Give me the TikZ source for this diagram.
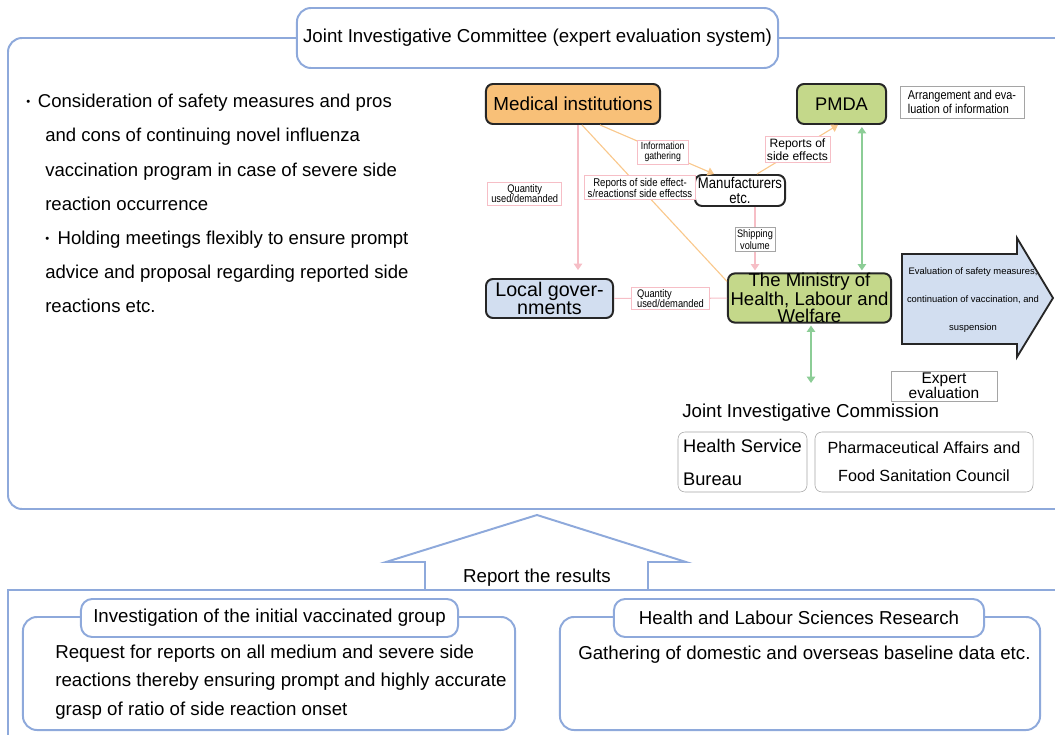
\documentclass[tikz,border=0pt]{standalone}
\usepackage{fontspec}
\setmainfont{Liberation Sans}
\newfontfamily\narrowsf[FakeStretch=0.85]{Liberation Sans}
\usepackage{tikz}
\usetikzlibrary{arrows.meta, positioning, calc}
\definecolor{frameblue}{RGB}{142,169,219}
\definecolor{medorange}{RGB}{248,192,120}
\definecolor{mhlwgreen}{RGB}{196,216,138}
\definecolor{govblue}{RGB}{210,222,240}
\definecolor{linkpink}{RGB}{246,190,198}
\definecolor{linkorange}{RGB}{249,200,140}
\definecolor{linkgreen}{RGB}{140,205,150}
\definecolor{boxgray}{RGB}{165,165,165}
\newcommand{\fsz}[2]{\fontsize{#1}{#2}\selectfont}
\newcommand{\dotmark}{\raisebox{1.6pt}{\fsz{8}{8}•}}

\begin{document}
\begin{tikzpicture}[
  x=0.025cm, y=-0.025cm,
  outerframe/.style={draw=frameblue, line width=1.4pt},
  hdr/.style={draw=frameblue, line width=1.4pt, fill=white, rounded corners=8pt,
              inner sep=0pt, font=\fsz{13.3}{15}},
  actor/.style={draw=black!85, line width=1.4pt, rounded corners=5pt, align=center,
                inner sep=0pt},
  note/.style={draw=boxgray, line width=0.5pt, fill=white, align=center, inner sep=1.5pt},
  pklbl/.style={draw=linkpink, line width=0.5pt, fill=white, align=center, inner xsep=2.5pt,
                inner ysep=1.5pt, font=\narrowsf\fsz{7.8}{7.3}},
  pk/.style={draw=linkpink, line width=0.8pt},
  og/.style={draw=linkorange, line width=0.8pt},
  gr/.style={draw=linkgreen, line width=0.9pt},
  headed/.style={-{Triangle[length=4.5pt,width=6pt]}},
  twohead/.style={{Triangle[length=4.5pt,width=6pt]}-{Triangle[length=4.5pt,width=6pt]}}
]
  \clip (0,0) rectangle (1055,735);

  % upper frame: expert evaluation system
  \draw[outerframe, rounded corners=10pt] (1075,38) -- (8,38) -- (8,509) -- (1075,509);
  \node[hdr, minimum width=12.025cm, minimum height=1.5cm, rounded corners=10pt]
       (jic) at (537.5,38) {Joint Investigative Committee (expert evaluation system)};

  \node[anchor=north west, align=left, inner sep=0pt, font=\fsz{13.2}{24.3}] (tasks) at (26,94)
       {\dotmark\hspace{5.5pt}Consideration of safety measures and pros\\
        \hspace*{13.5pt}and cons of continuing novel influenza\\
        \hspace*{13.5pt}vaccination program in case of severe side\\
        \hspace*{13.5pt}reaction occurrence\\
        \hspace*{13.5pt}\dotmark\hspace{6pt}Holding meetings flexibly to ensure prompt\\
        \hspace*{13.5pt}advice and proposal regarding reported side\\
        \hspace*{13.5pt}reactions etc.};

  % actors
  \node[actor, fill=medorange, minimum width=4.35cm, minimum height=1.0cm, font=\fsz{13.4}{14}]
       (medical) at (573,104) {Medical institutions};
  \node[actor, fill=mhlwgreen, minimum width=2.225cm, minimum height=1.0cm, font=\fsz{13}{14}]
       (pmda) at (841.5,104) {PMDA};
  \node[note, align=left, minimum width=3.1cm, minimum height=0.8cm,
        font=\narrowsf\fsz{9.1}{10}]
       (arrange) at (962,102) {Arrangement and eva-\\luation of information};
  \node[actor, fill=white, minimum width=2.25cm, minimum height=0.775cm,
        font=\narrowsf\fsz{11}{10.7}]
       (manuf) at (740,190.5) {Manufacturers\\etc.};
  \node[actor, fill=govblue, minimum width=3.175cm, minimum height=0.975cm, font=\fsz{14}{12.8}]
       (local) at (549.5,298.5) {Local gover-\\nments};
  \node[actor, fill=mhlwgreen, minimum width=4.075cm, minimum height=1.2cm, font=\fsz{13.2}{12}]
       (ministry) at (809.5,298) {The Ministry of\\Health, Labour and\\Welfare};

  % evaluation arrow
  \draw[black!85, line width=1.3pt, fill=govblue]
       (902,254) -- (1017,254) -- (1017,238) -- (1053,298) -- (1017,357) -- (1017,344)
       -- (902,344) -- cycle;
  \node[align=center, inner sep=0pt, font=\fsz{6.7}{20}] (evaluation) at (973,300)
       {Evaluation of safety measures,\\continuation of vaccination, and\\suspension};

  \node[note, minimum width=2.65cm, minimum height=0.75cm, inner sep=0pt, font=\fsz{11}{10.5}]
       (expert) at (944,386) {Expert\\evaluation};
  \node[anchor=west, inner sep=0pt, font=\fsz{13.3}{15}] (jicomm) at (682,413)
       {Joint Investigative Commission};
  \node[draw=boxgray, rounded corners=5pt, minimum width=3.225cm, minimum height=1.5cm,
        align=left, inner sep=0pt, font=\fsz{13}{23.5}]
       (bureau) at (742.5,462) {Health Service\\Bureau};
  \node[draw=boxgray, rounded corners=5pt, minimum width=5.45cm, minimum height=1.5cm,
        align=center, inner sep=0pt, font=\fsz{11.5}{20}]
       (council) at (924,462) {Pharmaceutical Affairs and\\Food Sanitation Council};

  % flows between actors
  \draw[pk, headed, shorten >=0.2cm] ([xshift=0.125cm]medical.south)
       -- ([xshift=0.125cm]medical.south |- local.north)
       node[pklbl, pos=0.45, left=0.4cm] (qtymed) {Quantity\\used/demanded};
  \draw[og] ([xshift=0.225cm]medical.south) -- ([yshift=-0.225cm]ministry.north west)
       node[pklbl, pos=0.4, font=\narrowsf\fsz{8}{7.8}] (sidefx)
       {Reports of side effect-\\s/reactionsf side effectss};
  \draw[og, headed] ([xshift=0.675cm]medical.south) -- ([xshift=-0.65cm]manuf.north)
       node[pklbl, pos=0.55, font=\narrowsf\fsz{7.3}{7.2}] (gather) {Information\\gathering};
  \draw[og, headed] ([xshift=0.425cm]manuf.north) -- ([xshift=-0.09cm]pmda.south)
       node[pklbl, pos=0.5, inner xsep=1.5pt, font=\fsz{8.6}{8.8}] (reppmda)
       {Reports of\\side effects};
  \draw[pk, headed, shorten >=0.05cm] ([xshift=0.375cm]manuf.south)
       -- ([xshift=0.375cm]manuf.south |- ministry.north)
       node[note, pos=0.5, font=\narrowsf\fsz{7.7}{8.5}] (ship) {Shipping\\volume};
  \draw[gr, twohead, shorten <=0.05cm, shorten >=0.05cm] ([xshift=0.51cm]pmda.south)
       -- ([xshift=0.51cm]pmda.south |- ministry.north);
  \draw[pk] (local) -- (ministry)
       node[pklbl, midway, align=left, inner xsep=4pt] (qtymin) {Quantity\\used/demanded};
  \coordinate (cmtop) at (811,383);
  \draw[gr, twohead, shorten <=0.05cm] (ministry.south -| cmtop) -- (cmtop);

  % lower frame: research
  \draw[outerframe] (1075,590) -- (8,590) -- (8,745);
  \draw[outerframe, line join=miter] (425,590) -- (425,562) -- (386,562) -- (537,515)
       -- (686,562) -- (648,562) -- (648,590);
  \node[font=\fsz{13.3}{15}] (report) at (537,578) {Report the results};

  \node[outerframe, rounded corners=10pt, minimum width=12.3cm, minimum height=2.825cm]
       (vaccbox) at (269,673.5) {};
  \node[hdr, minimum width=9.425cm, minimum height=0.95cm] (vacctitle) at (269.5,618)
       {Investigation of the initial vaccinated group};
  \node[anchor=north west, align=left, inner sep=0pt, font=\fsz{13.3}{20}] (vacctext) at (55,645)
       {Request for reports on all medium and severe side\\
        reactions thereby ensuring prompt and highly accurate\\
        grasp of ratio of side reaction onset};

  \node[outerframe, rounded corners=10pt, minimum width=12.0cm, minimum height=2.825cm]
       (resbox) at (800,673.5) {};
  \node[hdr, minimum width=9.25cm, minimum height=0.95cm] (restitle) at (799,618)
       {Health and Labour Sciences Research};
  \node[anchor=north west, align=left, inner sep=0pt, font=\fsz{13.3}{20}] (restext) at (578,646)
       {Gathering of domestic and overseas baseline data etc.};
\end{tikzpicture}
\end{document}
